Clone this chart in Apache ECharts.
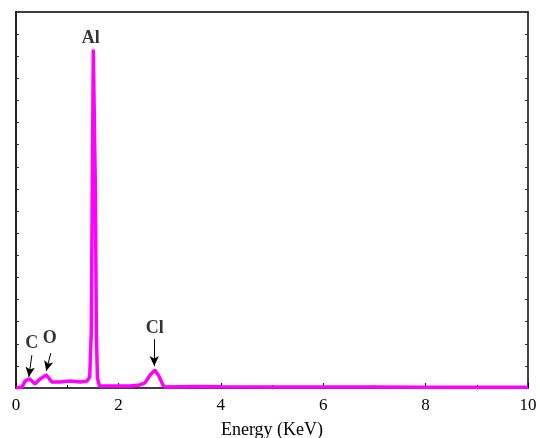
<!DOCTYPE html>
<html>
<head>
<meta charset="utf-8">
<script src="https://cdn.jsdelivr.net/npm/echarts@6/dist/echarts.min.js"></script>
<style>
  html, body { margin: 0; padding: 0; background: #fff; }
  #main { width: 538px; height: 438px; }
</style>
</head>
<body>
<div id="main"></div>
<script>
var chartDom = document.getElementById('main');
var myChart = echarts.init(chartDom);
var option;

// EDS spectrum (counts in arbitrary units)
const energy = [0, 0.12, 0.18, 0.27, 0.37, 0.47, 0.59, 0.64, 0.70, 0.86, 1.05, 1.25, 1.39, 1.44,
  1.47, 1.49, 1.51, 1.53, 1.55, 1.57, 1.59, 1.63, 1.84, 2.23, 2.42, 2.52, 2.62, 2.71, 2.79, 2.87,
  2.91, 3.5, 4, 5, 6, 7, 8, 9, 10];
const counts = [0, 0.05, 0.32, 0.41, 0.18, 0.41, 0.59, 0.45, 0.27, 0.27, 0.32, 0.27, 0.32, 0.5,
  2.5, 9.0, 15.3, 15.3, 9.0, 2.5, 0.45, 0.09, 0.09, 0.09, 0.14, 0.23, 0.59, 0.81, 0.54, 0.14,
  0.05, 0.07, 0.06, 0.05, 0.04, 0.04, 0.03, 0.03, 0.03];

// peak labels and their arrows
const peakNames = ['Al', 'C', 'O', 'Cl'];
const peakLabelX = [1.46, 0.31, 0.66, 2.71];
const peakLabelY = [15.8, 2.03, 2.26, 2.71];
const arrowFrom = [[0.31, 1.49], [0.68, 1.58], [2.70, 2.21]];
const arrowTo = [[0.25, 0.50], [0.59, 0.77], [2.70, 0.99]];

const spectrum = energy.map((e, i) => [e, counts[i]]);
const labels = peakNames.map((n, i) => [peakLabelX[i], peakLabelY[i], n]);
const arrows = arrowFrom.map((p, i) => [{ coord: p }, { coord: arrowTo[i] }]);

const serif = '"Liberation Serif", "DejaVu Serif", serif';

option = {
  animation: false,
  grid: { left: 16, right: 10, top: 12, bottom: 50, outerBoundsMode: 'none' },
  xAxis: [
    {
      type: 'value',
      min: 0,
      max: 10,
      interval: 2,
      name: 'Energy (KeV)',
      nameLocation: 'middle',
      nameGap: 33,
      nameTextStyle: { fontFamily: serif, fontSize: 18, color: '#000' },
      axisLine: { lineStyle: { color: '#000', width: 1.5 } },
      axisTick: { inside: true, length: 5, lineStyle: { color: '#000' } },
      minorTick: { show: true, splitNumber: 2, length: 3, lineStyle: { color: '#000' } },
      axisLabel: { fontFamily: serif, fontSize: 17, color: '#000', margin: 9 },
      splitLine: { show: false }
    },
    {
      type: 'value',
      position: 'top',
      min: 0,
      max: 10,
      axisLine: { show: true, onZero: false, lineStyle: { color: '#000', width: 1.5 } },
      axisTick: { show: false },
      axisLabel: { show: false },
      splitLine: { show: false }
    }
  ],
  yAxis: [
    {
      type: 'value',
      min: 0,
      max: 17,
      interval: 1,
      axisLine: { show: true, lineStyle: { color: '#222', width: 2 } },
      axisTick: { inside: true, length: 3, lineStyle: { color: '#333' } },
      axisLabel: { show: false },
      splitLine: { show: false }
    },
    {
      type: 'value',
      position: 'right',
      min: 0,
      max: 17,
      interval: 1,
      axisLine: { show: true, onZero: false, lineStyle: { color: '#000', width: 1.5 } },
      axisTick: { inside: true, length: 3, lineStyle: { color: '#333' } },
      axisLabel: { show: false },
      splitLine: { show: false }
    }
  ],
  series: [
    {
      name: 'EDS',
      type: 'line',
      data: spectrum,
      showSymbol: false,
      lineStyle: { color: '#ff00ff', width: 3.5 },
      z: 3,
      markLine: {
        silent: true,
        symbol: ['none', 'arrow'],
        symbolSize: [7, 10],
        label: { show: false },
        lineStyle: { color: '#000', width: 1, type: 'solid' },
        data: arrows
      }
    },
    {
      name: 'labels',
      type: 'scatter',
      data: labels,
      symbolSize: 0,
      silent: true,
      label: {
        show: true,
        position: 'inside',
        formatter: p => p.value[2],
        fontFamily: serif,
        fontWeight: 'bold',
        fontSize: 18,
        color: '#000'
      }
    }
  ]
};

option && myChart.setOption(option);
</script>
</body>
</html>
